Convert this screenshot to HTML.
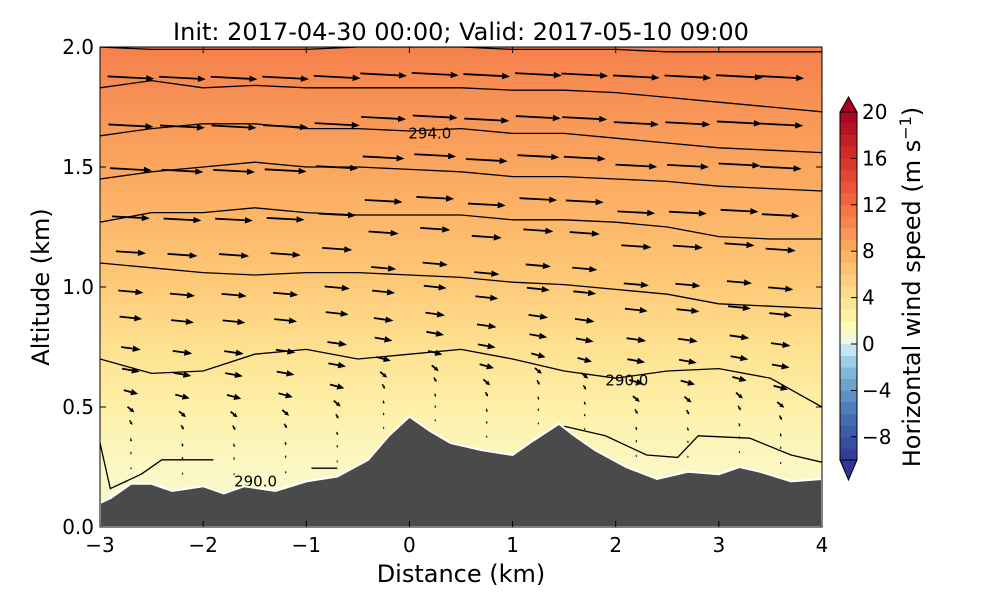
<!DOCTYPE html>
<html><head><meta charset="utf-8"><style>
body{margin:0;background:#fff;}
svg text{font-family:"DejaVu Sans","Liberation Sans",sans-serif;}
</style></head><body>
<svg id="c" width="1000" height="600" viewBox="0 0 1000 600">
<defs>
<linearGradient id="bg" x1="0" y1="1" x2="0" y2="0">
<stop offset="0" stop-color="#f4f9d8"/>
<stop offset="0.12" stop-color="#fbf8c4"/>
<stop offset="0.25" stop-color="#fef0a8"/>
<stop offset="0.38" stop-color="#fee08f"/>
<stop offset="0.52" stop-color="#fdc776"/>
<stop offset="0.72" stop-color="#fbab62"/>
<stop offset="1" stop-color="#f5804c"/>
</linearGradient>
<clipPath id="pc"><rect x="100" y="47" width="722" height="480"/></clipPath>
</defs>
<text x="461" y="40" font-size="24" text-anchor="middle">Init: 2017-04-30 00:00; Valid: 2017-05-10 09:00</text>
<g clip-path="url(#pc)">
<rect x="100" y="47" width="722" height="480" fill="url(#bg)"/>
<g id="cont"></g><g id="arr"></g><path id="terrain" fill="#4a4a4a" stroke="#fff" stroke-width="2"/>
</g>
<rect x="100" y="47" width="722" height="480" fill="none" stroke="#000" stroke-width="1"/>
<g id="ax"></g>
<text x="461" y="582" font-size="24" text-anchor="middle">Distance (km)</text>
<text transform="translate(49,287) rotate(-90)" font-size="24" text-anchor="middle">Altitude (km)</text>
<g id="cb"></g>
<text transform="translate(920,287) rotate(-90)" font-size="24" text-anchor="middle">Horizontal wind speed (m s<tspan dy="-9" font-size="16">−1</tspan><tspan dy="9">)</tspan></text>
</svg>
<script>
const xTicks=[-3,-2,-1,0,1,2,3,4];
const yTicks=[0.0,0.5,1.0,1.5,2.0];
const cbTicks=[20,16,12,8,4,0,-4,-8];
const terrainX=[-3,-2.9,-2.7,-2.5,-2.3,-2.0,-1.8,-1.6,-1.3,-1.0,-0.7,-0.4,-0.2,0,0.2,0.4,0.7,1.0,1.2,1.45,1.6,1.8,2.1,2.4,2.7,3.0,3.2,3.4,3.7,4];
const terrainY=[0.1,0.12,0.18,0.18,0.15,0.17,0.14,0.17,0.15,0.19,0.21,0.28,0.38,0.46,0.40,0.35,0.32,0.30,0.36,0.43,0.38,0.32,0.25,0.20,0.23,0.22,0.25,0.23,0.19,0.20];
const contourX=[-3,-2.5,-2,-1.5,-1,-0.5,0,0.5,1,1.5,2,2.5,3,3.5,4];
const contour1=[0.70,0.64,0.65,0.72,0.74,0.70,0.72,0.74,0.70,0.65,0.62,0.65,0.66,0.62,0.50];
const contour2=[1.10,1.08,1.06,1.05,1.06,1.06,1.05,1.04,1.02,1.01,0.99,0.97,0.93,0.92,0.91];
const contour3=[1.27,1.31,1.31,1.33,1.31,1.30,1.30,1.30,1.28,1.28,1.27,1.25,1.21,1.20,1.20];
const contour4=[1.45,1.48,1.50,1.52,1.50,1.50,1.49,1.48,1.46,1.46,1.45,1.44,1.42,1.41,1.40];
const contour5=[1.63,1.66,1.68,1.68,1.66,1.66,1.65,1.66,1.64,1.64,1.62,1.60,1.58,1.57,1.56];
const contour6=[1.83,1.86,1.83,1.84,1.83,1.83,1.83,1.83,1.82,1.82,1.81,1.79,1.77,1.75,1.73];
const contour7=[2.00,1.99,1.99,1.99,1.99,2.00,2.00,2.00,1.99,1.99,1.99,1.98,1.98,1.98,1.98];
const arrowCols=[-2.7,-2.2,-1.7,-1.2,-0.7,-0.25,0.25,0.75,1.25,1.7,2.2,2.7,3.2,3.6];
const arrowLevels=[0.93,0.82,0.72,0.61,0.53,0.44,0.38,0.31,0.26,0.21,0.17,0.14,0.10,0.07,0.035];
const arrowSpeed=[10.4,10,9.3,8.4,6.7,5.6,5.1,4.4,4,3.3,2.0,1.2,0.8,0.6,0.5];
const arrowTilt=[3,3,3,3,4,5,6,8,10,15,40,60,75,85,88];
const X=v=>100+(v+3)*722/7, Y=v=>527-v*240;
const NS="http://www.w3.org/2000/svg";
function mk(t,a,p){const e=document.createElementNS(NS,t);for(const k in a)e.setAttribute(k,a[k]);p.appendChild(e);return e;}
let d="M"+X(-3)+","+Y(0);terrainX.forEach((x,i)=>d+=" L"+X(x)+","+Y(terrainY[i]));d+=" L"+X(4)+","+Y(0)+" Z";
document.getElementById('terrain').setAttribute('d',d);
function terrAt(x){for(let i=0;i<terrainX.length-1;i++){if(x>=terrainX[i]&&x<=terrainX[i+1]){const t=(x-terrainX[i])/(terrainX[i+1]-terrainX[i]);return terrainY[i]+t*(terrainY[i+1]-terrainY[i]);}}return 0;}
const cg=document.getElementById('cont');
[contour1,contour2,contour3,contour4,contour5,contour6,contour7].forEach((c,j)=>{
 let p="";c.forEach((v,i)=>p+=(i?" L":"M")+X(contourX[i])+","+Y(v));
 const e=mk('path',{d:p,fill:'none',stroke:'#000','stroke-width':1.3},cg);
 
 
});
let bp="M"+X(-3)+","+Y(0.35)+" L"+X(-2.9)+","+Y(0.16)+" L"+X(-2.6)+","+Y(0.22)+" L"+X(-2.4)+","+Y(0.28)+" L"+X(-1.9)+","+Y(0.28);
let e0=mk('path',{d:bp,fill:'none',stroke:'#000','stroke-width':1.3},cg);


let ec=mk('path',{d:"M"+X(-0.95)+","+Y(0.245)+" L"+X(-0.7)+","+Y(0.245),fill:'none',stroke:'#000','stroke-width':1.3},cg);


let bp2="M"+X(1.5)+","+Y(0.42)+" L"+X(1.9)+","+Y(0.38)+" L"+X(2.3)+","+Y(0.30)+" L"+X(2.6)+","+Y(0.29)+" L"+X(2.8)+","+Y(0.38)+" L"+X(3.3)+","+Y(0.37)+" L"+X(3.7)+","+Y(0.3)+" L"+X(4)+","+Y(0.27);
let e1=mk('path',{d:bp2,fill:'none',stroke:'#000','stroke-width':1.3},cg);


[[ -1.7,0.19,'290.0'],[1.9,0.61,'290.0'],[-0.01,1.64,'294.0']].forEach(l=>{
 const t=mk('text',{x:X(l[0]),y:Y(l[1])+5,'font-size':15},cg);t.textContent=l[2];
 
 
});
const ag=document.getElementById('arr');
arrowLevels.forEach((f,ri)=>arrowCols.forEach(c=>{
 const t=terrAt(c), alt=t+f*(2.0-t);
 const L=arrowSpeed[ri]*4.5, ang=arrowTilt[ri]*Math.PI/180;
 const cx=X(c), cy=Y(alt), ca=Math.cos(ang), sa=Math.sin(ang);
 const x0=cx-L/2*ca, y0=cy-L/2*sa, x1=cx+L/2*ca, y1=cy+L/2*sa;
 const g=mk('g',{},ag);
 
 
 const h=Math.min(8,L*0.45+0.5), w=Math.min(3.2,L*0.2+0.4);
 const hx=x1-h*ca, hy=y1-h*sa;
 if(L>h)mk('line',{x1:x0,y1:y0,x2:hx,y2:hy,stroke:'#000','stroke-width':Math.min(1.8,L*0.15+0.6)},g);
 mk('path',{d:`M${x1},${y1} L${hx-w*sa},${hy+w*ca} L${hx+w*sa},${hy-w*ca} Z`,fill:'#000'},g);
}));
const ax=document.getElementById('ax');
xTicks.forEach(v=>{mk('line',{x1:X(v),x2:X(v),y1:527,y2:521,stroke:'#000'},ax);mk('line',{x1:X(v),x2:X(v),y1:47,y2:53,stroke:'#000'},ax);
 const t=mk('text',{x:X(v),y:552,'font-size':20,'text-anchor':'middle'},ax);t.textContent=v<0?'−'+(-v):v;
 
 });
yTicks.forEach(v=>{mk('line',{x1:100,x2:106,y1:Y(v),y2:Y(v),stroke:'#000'},ax);mk('line',{x1:822,x2:816,y1:Y(v),y2:Y(v),stroke:'#000'},ax);
 const t=mk('text',{x:94,y:Y(v)+7,'font-size':20,'text-anchor':'end'},ax);t.textContent=v.toFixed(1);
 
 });
const cb=document.getElementById('cb');
const CY=v=>344-v*11.6;
const anchors=[[-10,[49,54,149]],[-6,[69,117,180]],[-3,[116,173,209]],[-1,[171,217,233]],[0,[224,243,248]],[1,[255,255,191]],[4,[254,224,144]],[8,[253,174,97]],[12,[244,109,67]],[16,[215,48,39]],[20,[165,0,38]]];
function col(v){for(let i=0;i<anchors.length-1;i++){const a=anchors[i],b=anchors[i+1];if(v>=a[0]&&v<=b[0]){const t=(v-a[0])/(b[0]-a[0]);return 'rgb('+a[1].map((c,k)=>Math.round(c+t*(b[1][k]-c))).join(',')+')';}}return 'rgb(165,0,38)';}
for(let v=-10;v<20;v++){const r=mk('rect',{x:840,y:CY(v+1),width:17,height:11.8,fill:col(v+0.5)},cb);
 
 }
const tu=mk('path',{d:`M840,${CY(20)} L848.5,97 L857,${CY(20)} Z`,fill:'#a50026',stroke:'#000'},cb);


const td=mk('path',{d:`M840,${CY(-10)} L848.5,480 L857,${CY(-10)} Z`,fill:'#313695',stroke:'#000'},cb);


mk('rect',{x:840,y:CY(20),width:17,height:CY(-10)-CY(20),fill:'none',stroke:'#000'},cb);
cbTicks.forEach(v=>{mk('line',{x1:851,x2:857,y1:CY(v),y2:CY(v),stroke:'#000'},cb);
 const t=mk('text',{x:862,y:CY(v)+7,'font-size':20},cb);t.textContent=v<0?'−'+(-v):v;
 
 });
</script>
</body></html>
